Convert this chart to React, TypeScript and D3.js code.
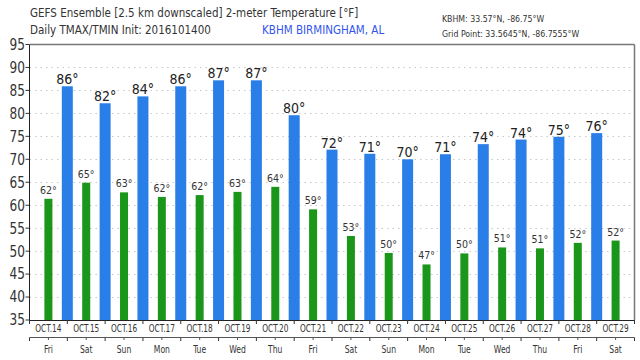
import React from "react";
import * as d3 from "d3";

const dates = ["OCT.14","OCT.15","OCT.16","OCT.17","OCT.18","OCT.19","OCT.20","OCT.21","OCT.22","OCT.23","OCT.24","OCT.25","OCT.26","OCT.27","OCT.28","OCT.29"];
const weekdays = ["Fri","Sat","Sun","Mon","Tue","Wed","Thu","Fri","Sat","Sun","Mon","Tue","Wed","Thu","Fri","Sat"];
const tmin = [61.4,64.9,62.8,61.8,62.2,62.9,64.0,59.1,53.3,49.6,47.1,49.5,50.8,50.6,51.8,52.3];
const tminLabels = [62,65,63,62,62,63,64,59,53,50,47,50,51,51,52,52];
const tmax = [85.9,82.2,83.7,85.9,87.2,87.2,79.6,72.1,71.2,70.0,71.1,73.3,74.3,74.9,75.7];
const tmaxLabels = [86,82,84,86,87,87,80,72,71,70,71,74,74,75,76];
const yTicks = [35,40,45,50,55,60,65,70,75,80,85,90,95];

const W = 640, H = 360;
const L = 29.5, R = 634.5, T = 44.5, B = 320;
const FONT = "'DejaVu Sans Condensed', 'DejaVu Sans', sans-serif";

export default function App() {
  const x = d3.scaleLinear().domain([0, 16]).range([L, R]);
  const y = d3.scaleLinear().domain([35, 95]).range([B, T]);
  const blueW = 11, greenW = 8;
  return (
    <svg width={W} height={H} style={{ position: "absolute", left: 0, top: 0, background: "#fff" }} fontFamily={FONT}>
      <rect x={0} y={0} width={W} height={H} fill="#fff" />
      {/* titles */}
      <text x={30} y={17} fontSize={11.5} fill="#333">GEFS Ensemble [2.5 km downscaled] 2-meter Temperature [°F]</text>
      <text x={30} y={34} fontSize={11.5} fill="#333">Daily TMAX/TMIN Init: 2016101400</text>
      <text x={262} y={34} fontSize={11.5} fill="#3355ee">KBHM BIRMINGHAM, AL</text>
      <text x={442} y={22} fontSize={8.7} fill="#333">KBHM: 33.57°N, -86.75°W</text>
      <text x={442} y={37} fontSize={8.7} fill="#333">Grid Point: 33.5645°N, -86.7555°W</text>
      {/* grid */}
      {yTicks.filter(t => t > 35 && t < 95).map(t => (
        <line key={t} x1={L} x2={R} y1={Math.round(y(t)) + 0.5} y2={Math.round(y(t)) + 0.5} stroke="#c8c8c8" strokeDasharray="1.5,4" />
      ))}
      {/* y labels */}
      {yTicks.map(t => (
        <g key={t}>
          <line x1={L - 4} x2={L} y1={y(t)} y2={y(t)} stroke="#333" />
          <g transform={`translate(25,${y(t)}) scale(0.9,1)`}>
            <text x={0} y={0} dy="0.36em" textAnchor="end" fontSize={15} fill="#333">{t}</text>
          </g>
        </g>
      ))}
      {/* max bars */}
      {tmax.map((v, i) => (
        <g key={"mx" + i}>
          <rect x={x(i + 1) - blueW / 2} y={y(v)} width={blueW} height={B - y(v)} fill="#2a7ee8" />
          <text x={x(i + 1)} y={y(v) - 2} textAnchor="middle" fontSize={14} fill="#222">{tmaxLabels[i]}°</text>
        </g>
      ))}
      {/* min bars */}
      {tmin.map((v, i) => (
        <g key={"mn" + i}>
          <rect x={x(i + 0.5) - greenW / 2} y={y(v)} width={greenW} height={B - y(v)} fill="#1a961a" />
          <text x={x(i + 0.5)} y={y(v) - 5} textAnchor="middle" fontSize={10.5} fill="#333">{tminLabels[i]}°</text>
        </g>
      ))}
      {/* frame */}
      <line x1={L} x2={R} y1={T} y2={T} stroke="#777" strokeWidth={1.5} />
      <line x1={R} x2={R} y1={T} y2={B} stroke="#777" strokeWidth={1.5} />
      <line x1={L} x2={L} y1={T} y2={B} stroke="#222" />
      <line x1={L} x2={R} y1={B + 0.5} y2={B + 0.5} stroke="#222" />
      {/* x axis rows */}
      {d3.range(17).map(i => (
        <g key={"t" + i}>
          <line x1={x(i)} x2={x(i)} y1={B} y2={B + 4} stroke="#333" />
          <line x1={x(i)} x2={x(i)} y1={337.5} y2={341} stroke="#333" />
        </g>
      ))}
      {dates.map((d, i) => (
        <g key={"d" + i}>
          <line x1={x(i + 0.5)} x2={x(i + 0.5)} y1={337.5} y2={340} stroke="#555" />
          <g transform={`translate(${x(i + 0.5)},332) scale(0.82,1)`}>
            <text x={0} y={0} textAnchor="middle" fontSize={10} fill="#333">{d}</text>
          </g>
          <g transform={`translate(${x(i + 0.5)},353) scale(0.85,1)`}>
            <text x={0} y={0} textAnchor="middle" fontSize={10} fill="#333">{weekdays[i]}</text>
          </g>
        </g>
      ))}
      <line x1={L} x2={R} y1={337.5} y2={337.5} stroke="#555" />
    </svg>
  );
}
